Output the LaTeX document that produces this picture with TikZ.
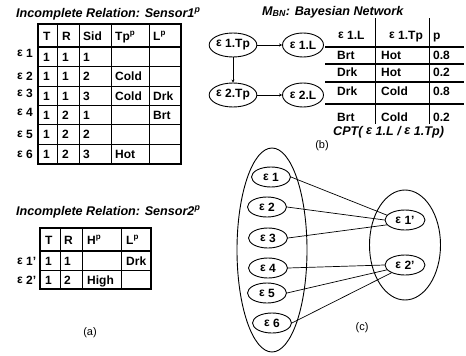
\documentclass[tikz,border=0pt]{standalone}
\usepackage{fontspec}
\setmainfont{Liberation Sans}
\usepackage{tikz}
\usetikzlibrary{
	arrows.meta,
	positioning,
	shapes.geometric
}
\newcommand{\epsl}{\raisebox{1pt}{ε}}
\tikzset{
  % text
	csttitle/.style   ={font=\bfseries\itshape\fontsize{12.6}{14}\selectfont, anchor=base west, inner sep=0pt},
	csttext/.style    ={font=\bfseries\fontsize{12}{14}\selectfont, anchor=base west, inner sep=0pt},
	cstcap/.style     ={font=\fontsize{11}{13}\selectfont, inner sep=0pt},
  % lines
	cstgrid/.style    ={line width=0.6pt},
	cstframe/.style   ={line width=1.3pt},
	cstra/.style      ={-{Stealth[length=3pt,width=3pt]}, line width=0.5pt},
	cstlink/.style    ={line width=0.7pt},
  % ellipse
	cstell/.style     ={ellipse, draw, line width=0.9pt, inner sep=0pt, minimum width=40pt, minimum height=20pt, font=\bfseries\fontsize{12}{14}\selectfont},
	cstset/.style     ={ellipse, draw, line width=0.9pt, inner sep=0pt}
}

\begin{document}
\begin{tikzpicture}[x=1pt,y=-1pt]
	\useasboundingbox (0,0) rectangle (466,356);
	% (a) Sensor1
	\node[csttitle] (title1) at (16,17) {Incomplete Relation: Sensor1\textsuperscript{p}};
	\foreach \x in {57,79,111,149} \draw[cstgrid] (\x,24)--(\x,164);
	\foreach \y in {66,86,105,124,144} \draw[cstgrid] (38,\y)--(181,\y);
	\draw[cstframe] (38,24) rectangle (181,164);
	\draw[cstframe] (38,47)--(181,47);
	\foreach \y/\ta/\tb/\tc/\td/\te [count=\r] in {40/T/R/Sid/Tp\textsuperscript{p}/L\textsuperscript{p},
		61/1/1/1/{}/{}, 80.5/1/1/2/Cold/{}, 100/1/1/3/Cold/Drk,
		119/1/2/1/{}/Brt, 138.5/1/2/2/{}/{}, 158.5/1/2/3/Hot/{}}{
		\node[csttext] (sa-\r-1) at (43,\y) {\ta};
		\node[csttext] (sa-\r-2) at (62,\y) {\tb};
		\node[csttext] (sa-\r-3) at (83,\y) {\tc};
		\node[csttext] (sa-\r-4) at (115,\y) {\td};
		\node[csttext] (sa-\r-5) at (153,\y) {\te};
	}
	\foreach \y [count=\r] in {57,80,97,116,138,158}
		\node[csttext] (ra-\r) at (17,\y) {\epsl\ \r};
	% (a) Sensor2
	\node[csttitle] (title2) at (16,215) {Incomplete Relation: Sensor2\textsuperscript{p}};
	\foreach \x in {60,82,121} \draw[cstgrid] (\x,228)--(\x,289);
	\draw[cstgrid] (40,270)--(151,270);
	\draw[cstframe] (40,228) rectangle (151,289);
	\draw[cstframe] (40,251)--(151,251);
	\foreach \y/\ta/\tb/\tc/\td [count=\r] in {244/T/R/H\textsuperscript{p}/L\textsuperscript{p},
		265/1/1/{}/Drk, 284/1/2/High/{}}{
		\node[csttext] (sb-\r-1) at (45,\y) {\ta};
		\node[csttext] (sb-\r-2) at (64,\y) {\tb};
		\node[csttext] (sb-\r-3) at (87,\y) {\tc};
		\node[csttext] (sb-\r-4) at (126,\y) {\td};
	}
	\node[csttext] (rb-1) at (17,265) {\epsl\ 1'};
	\node[csttext] (rb-2) at (17,284) {\epsl\ 2'};
	\node[cstcap] (capa) at (90,333) {(a)};
	% (b) Bayesian network
	\node[csttitle] (title3) at (262,15) {M\textsubscript{BN}: Bayesian Network};
	\node[cstell,minimum width=47pt,minimum height=24pt] (tp1) at (233,45) {\epsl\ 1.Tp};
	\node[cstell,minimum width=41pt,minimum height=24pt] (l1) at (303,45) {\epsl\ 1.L};
	\node[cstell,minimum width=47pt,minimum height=24pt] (tp2) at (233,95) {\epsl\ 2.Tp};
	\node[cstell,minimum width=41pt,minimum height=24pt] (l2) at (303,95) {\epsl\ 2.L};
	\draw[cstra] (tp1)--(l1);
	\draw[cstra] (tp1)--(tp2);
	\draw[cstra] (tp2)--(l2);
	% CPT
	\draw[cstgrid] (375,18)--(375,124);
	\draw[cstgrid] (429,18)--(429,124);
	\foreach \y in {47,64,82,104} \draw[cstframe] (325,\y)--(464,\y);
	\node[csttext] (cpt-0-1) at (338,39.5) {\epsl\ 1.L};
	\node[csttext] (cpt-0-2) at (389,39.5) {\epsl\ 1.Tp};
	\node[csttext] (cpt-0-3) at (433,39.5) {p};
	\foreach \y/\ta/\tb/\tc [count=\r] in {59/Brt/Hot/0.8, 76.5/Drk/Hot/0.2, 95.5/Drk/Cold/0.8, 121/Brt/Cold/0.2}{
		\node[csttext] (cpt-\r-1) at (337,\y) {\ta};
		\node[csttext] (cpt-\r-2) at (381,\y) {\tb};
		\node[csttext] (cpt-\r-3) at (433,\y) {\tc};
	}
	\node[csttitle] (cptcap) at (333,135.5) {CPT( \epsl\ 1.L / \epsl\ 1.Tp)};
	\node[cstcap] (capb) at (322,146) {(b)};
	% (c) mapping
	\node[cstset,minimum width=70pt,minimum height=204pt] (left) at (272,250) {};
	\node[cstset,minimum width=71pt,minimum height=110pt] (right) at (405,245) {};
	\foreach \x/\y [count=\r] in {271/177,267/207,268/238,268/268,267/293,272/323}
		\node[cstell,minimum width=39pt] (e\r) at (\x,\y) {\epsl\ \r};
	\node[cstell] (f1) at (405,220) {\epsl\ 1'};
	\node[cstell] (f2) at (405,265) {\epsl\ 2'};
	\draw[cstlink] (e1.east)--(f1.165);
	\draw[cstlink] (e2.east)--(f1.west);
	\draw[cstlink] (e3.east)--(f1.195);
	\draw[cstlink] (e4.east)--(f2.west);
	\draw[cstlink] (e5.east)--(f2.195);
	\draw[cstlink] (e6.east)--(f2.210);
	\node[cstcap] (capc) at (362,328) {(c)};
\end{tikzpicture}
\end{document}
